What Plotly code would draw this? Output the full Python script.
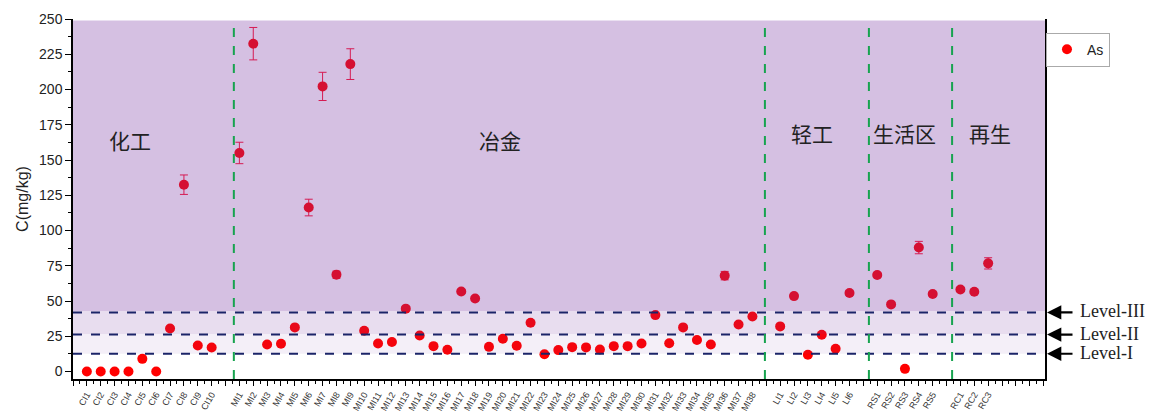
import plotly.graph_objects as go

# ---------------- data ----------------
ci_names = ["CI1", "CI2", "CI3", "CI4", "CI5", "CI6", "CI7", "CI8", "CI9", "CI10"]
ci_vals = [0, 0, 0, 0, 9, 0, 30.5, 132.5, 18.5, 17]
ci_err = [0, 0, 0, 0, 0.5, 0, 1, 6.9, 1, 1]

mi_names = ["MI%d" % i for i in range(1, 39)]
mi_vals = [155, 232.5, 19.2, 19.7, 31.3, 116.3, 202.2, 68.7, 218, 28.9,
           19.9, 20.9, 44.6, 25.6, 18, 15.4, 56.8, 51.8, 17.5, 23.2,
           18.3, 34.6, 12.3, 15.2, 17.3, 17.1, 15.6, 18, 18, 19.9,
           40, 20.1, 31.3, 22.3, 19.2, 68, 33.4, 39]
mi_err = [7.6, 11.5, 1, 1, 1, 5.9, 10, 2.5, 10.9, 1,
          1, 1, 1, 1, 1, 1, 1.5, 1, 1, 1,
          1, 1, 0.5, 0.5, 1, 1, 0.5, 1, 1, 1,
          1, 1, 1, 1, 1, 3, 1, 1]

li_names = ["LI1", "LI2", "LI3", "LI4", "LI5", "LI6"]
li_vals = [32, 53.5, 11.9, 26.1, 16.1, 55.7]
li_err = [1, 1.5, 0.5, 1, 1, 1.5]

rs_names = ["RS1", "RS2", "RS3", "RS4", "RS5"]
rs_vals = [68.5, 47.6, 1.9, 87.9, 55]
rs_err = [1.5, 1, 0.2, 4.4, 1.5]

rc_names = ["RC1", "RC2", "RC3"]
rc_vals = [58.2, 56.6, 76.7]
rc_err = [1.5, 1, 4]

group_titles = ["化工", "冶金", "轻工", "生活区", "再生"]
level_names = ["Level-I", "Level-II", "Level-III"]
level_vals = [12.6, 26.2, 41.9]

# ---------------- layout of slots (one empty slot between groups) ----------------
groups = [(ci_names, ci_vals, ci_err), (mi_names, mi_vals, mi_err),
          (li_names, li_vals, li_err), (rs_names, rs_vals, rs_err),
          (rc_names, rc_vals, rc_err)]
xs, ys, es, names = [], [], [], []
slot = 1
for gn, gv, ge in groups:
    for n, v, e in zip(gn, gv, ge):
        xs.append(slot); ys.append(v); es.append(e); names.append(n)
        slot += 1
    slot += 1
n_slots = 70
tickvals = list(range(0, n_slots + 1))
label_at = dict(zip(xs, names))
ticktext = [label_at.get(t, "") for t in tickvals]

separators = [11.6, 49.9, 57.4, 63.4]
title_pos = [(4.1, 164), (30.8, 164), (53.3, 169), (60.0, 169), (66.1, 169)]

fig = go.Figure()
fig.add_trace(go.Scatter(
    x=xs, y=ys, mode="markers", name="As",
    marker=dict(color="#ff0000", size=10),
    error_y=dict(type="data", array=es, visible=True, color="#ff1030",
                 thickness=1, width=4),
))

purple = "119,52,161"
shapes = [
    dict(type="rect", xref="paper", x0=0, x1=1, yref="y", y0=level_vals[0], y1=level_vals[1] + 0.5,
         fillcolor="rgba(%s,0.08)" % purple, line_width=0, layer="above"),
    dict(type="rect", xref="paper", x0=0, x1=1, yref="y", y0=level_vals[1] + 0.5, y1=level_vals[2] + 1,
         fillcolor="rgba(%s,0.17)" % purple, line_width=0, layer="above"),
    dict(type="rect", xref="paper", x0=0, x1=1, yref="y", y0=level_vals[2] + 1, y1=249,
         fillcolor="rgba(%s,0.31)" % purple, line_width=0, layer="above"),
]
for lv in level_vals:
    shapes.append(dict(type="line", xref="paper", x0=0, x1=1, yref="y", y0=lv, y1=lv,
                       line=dict(color="#1b2468", width=2, dash="dash"), layer="above"))
for sx in separators:
    shapes.append(dict(type="line", xref="x", x0=sx, x1=sx, yref="paper", y0=0, y1=1,
                       line=dict(color="#17a34f", width=2, dash="dash"), layer="above"))

annotations = []
for t, (tx, ty) in zip(group_titles, title_pos):
    annotations.append(dict(x=tx, y=ty, xref="x", yref="y", text=t, showarrow=False,
                            font=dict(family="Noto Sans CJK SC", size=21, color="#222222")))
for name, lv in zip(level_names, level_vals):
    annotations.append(dict(x=1, y=lv, xref="paper", yref="y", text="", showarrow=True,
                            ax=27, ay=0, arrowhead=2, arrowsize=1.3, arrowwidth=2.2,
                            arrowcolor="#000000", xshift=2))
    annotations.append(dict(x=1, y=lv, xref="paper", yref="y", text=name, showarrow=False,
                            xanchor="left", xshift=33, yshift=1,
                            font=dict(family="Liberation Serif", size=18, color="#222222")))

fig.update_layout(
    width=1176, height=413,
    margin=dict(l=73, r=131, t=19, b=34, autoexpand=False),
    plot_bgcolor="white", paper_bgcolor="white",
    shapes=shapes, annotations=annotations,
    showlegend=True,
    legend=dict(x=1.001, y=0.962, xanchor="left", yanchor="top",
                bordercolor="#aaaaaa", borderwidth=1, bgcolor="white",
                font=dict(family="Arial", size=14, color="#222222"),
                itemwidth=30, entrywidth=72, tracegroupgap=0),
    font=dict(family="Arial", color="#222222"),
)
fig.update_xaxes(
    range=[0, 70.1], tickmode="array", tickvals=tickvals, ticktext=ticktext,
    tickangle=-60, tickfont=dict(size=9, color="#333333"), automargin=False,
    showline=True, linecolor="black", linewidth=1.5, mirror=False,
    ticks="outside", ticklen=5, tickcolor="black", showgrid=False, zeroline=False,
    minor=dict(dtick=0.5, tick0=0, ticks="outside", ticklen=3, tickcolor="black"),
)
fig.update_yaxes(
    range=[-5.3, 250], tickmode="linear", dtick=25, tick0=0, automargin=False,
    tickfont=dict(size=14, color="#222222"),
    title=dict(text="C(mg/kg)", font=dict(size=16, color="#222222"), standoff=6),
    showline=True, linecolor="black", linewidth=1.5, mirror=True,
    ticks="outside", ticklen=6, tickcolor="black", showgrid=False, zeroline=False,
    minor=dict(dtick=12.5, tick0=0, ticks="outside", ticklen=3, tickcolor="black"),
)

fig.write_html("out.html", config={"displayModeBar": False},
               post_script="document.body.style.margin='0px';document.body.style.overflow='hidden';")
